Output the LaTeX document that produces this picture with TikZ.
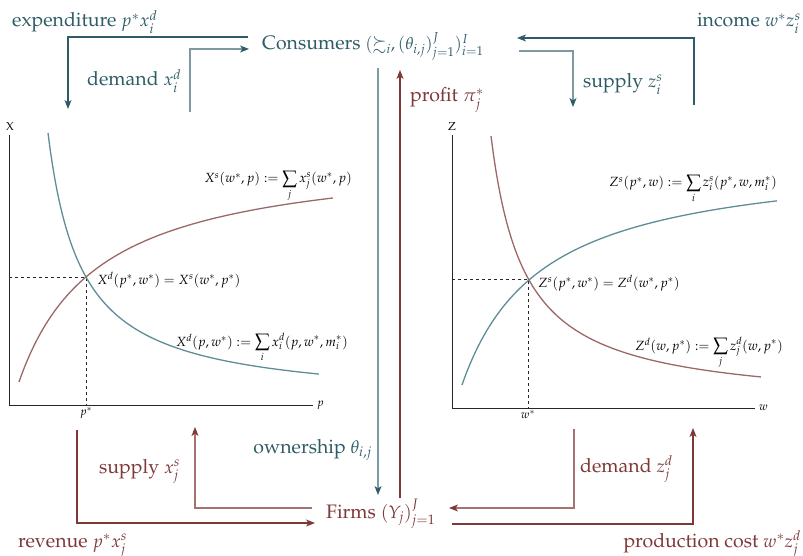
\documentclass[tikz,border=0pt]{standalone}
\usepackage[T1]{fontenc}
\usepackage{mathpazo}
\usepackage{amssymb}
\usetikzlibrary{arrows.meta}
\definecolor{tdark}{HTML}{2E5C66}
\definecolor{tlight}{HTML}{7D9AA3}
\definecolor{rdark}{HTML}{7E3838}
\definecolor{rlight}{HTML}{A57272}
\definecolor{tcurve}{HTML}{5E8D97}
\definecolor{rcurve}{HTML}{9C6767}
\newcommand{\mth}[1]{{\fontsize{18}{21}\selectfont$#1$}}
\newcommand{\mthc}[1]{{\fontsize{17}{20}\selectfont$#1$}}
\begin{document}
\begin{tikzpicture}[x=1pt,y=-1pt,
  big/.style={font=\fontsize{19.5}{22}\selectfont, inner sep=0pt},
  mid/.style={font=\fontsize{13.3}{15}\selectfont, inner sep=0pt},
  small/.style={font=\fontsize{11.5}{13}\selectfont, inner sep=0pt},
  flow/.style={line width=1.05pt},
  tipT/.style={-{Stealth[length=9pt,width=7pt,inset=2.5pt,color=tdark]}},
  tipR/.style={-{Stealth[length=9pt,width=7pt,inset=2.5pt,color=rdark]}},
  axis/.style={line width=0.8pt, black!85},
  guide/.style={dashed, line width=0.6pt, black!85},
  curve/.style={line width=1.3pt}
]
\useasboundingbox (0,0) rectangle (803,556);

% main nodes
\node[big, text=tdark, anchor=base west] (cons) at (262,50) {Consumers \mthc{(\succsim_i,(\theta_{i,j})_{j=1}^J)_{i=1}^I}};
\node[big, text=rdark, anchor=base west] (firms) at (326,518) {Firms \mth{(Y_j)_{j=1}^J}};

% flow coordinates
\coordinate (expS) at (248,37);  \coordinate (expE) at (68,109);
\coordinate (dmS) at (190,112);  \coordinate (dmE) at (249,49);
\coordinate (inS) at (694,105);  \coordinate (inE) at (517,38);
\coordinate (szS) at (519,51);   \coordinate (szE) at (573,107);
\coordinate (owS) at (378,68);   \coordinate (owE) at (378,495);
\coordinate (prS) at (400,498);  \coordinate (prE) at (400,70);
\coordinate (rvS) at (77,430);   \coordinate (rvE) at (315,523);
\coordinate (sxS) at (312,508);  \coordinate (sxE) at (195,427);
\coordinate (dzS) at (574,429);  \coordinate (dzE) at (449,508);
\coordinate (pcS) at (452,524);  \coordinate (pcE) at (693,428);

\draw[flow, tdark, tipT] (expS) -| (expE);
\draw[flow, tlight, tipT] (dmS) |- (dmE);
\draw[flow, tdark, tipT] (inS) |- (inE);
\draw[flow, tlight, tipT] (szS) -| (szE);
\draw[flow, tlight, tipT] (owS) -- (owE);
\draw[flow, rdark, tipR] (prS) -- (prE);
\draw[flow, rdark, tipR] (rvS) |- (rvE);
\draw[flow, rlight, tipR] (sxS) -| (sxE);
\draw[flow, rlight, tipR] (dzS) |- (dzE);
\draw[flow, rdark, tipR] (pcS) -| (pcE);

% flow labels
\node[big, text=tdark, anchor=base west] (lexp) at (12,27) {expenditure \mth{p^*x_i^d}};
\node[big, text=tdark, anchor=base west] (ldm) at (87,86) {demand \mth{x_i^d}};
\node[big, text=tdark, anchor=base east] (linc) at (801,27) {income \mth{w^*z_i^s}};
\node[big, text=tdark, anchor=base west] (lsz) at (583,88) {supply \mth{z_i^s}};
\node[big, text=rdark, anchor=base west] (lpr) at (410,102) {profit \mth{\pi_j^*}};
\node[big, text=tdark, anchor=base east] (low) at (372,453) {ownership \mth{\theta_{i,j}}};
\node[big, text=rdark, anchor=base west] (lsx) at (99,473) {supply \mth{x_j^s}};
\node[big, text=rdark, anchor=base west] (lrv) at (18,547) {revenue \mth{p^*x_j^s}};
\node[big, text=rdark, anchor=base west] (ldz) at (580,472) {demand \mth{z_j^d}};
\node[big, text=rdark, anchor=base east] (lpc) at (801,547) {production cost \mth{w^*z_j^d}};

% left graph
\begin{scope}[shift={(9,405)}]
  \coordinate (LO) at (0,0);
  \coordinate (LY) at (0,-270);
  \coordinate (LX) at (304,0);
  \coordinate (LE) at (77,-128);
  \draw[axis] (LY) -- (LO) -- (LX);
  \draw[guide] (LO |- LE) -- (LE) -- (LE |- LO);
  \draw[curve, tcurve, domain=39:310, samples=120, variable=\u] plot (\u, {-(1.2+90.57/((\u-5.55)/100))});
  \draw[curve, rcurve, domain=10:324, samples=120, variable=\u] plot (\u, {-(254.2-186.08/((\u+70.5)/100))});
\end{scope}
\node[small, anchor=south] (lXl) at (10,131) {X};
\node[small, anchor=west] (lpl) at (317,405) {$p$};
\node[small, anchor=north] (lps) at (86,407) {$p^*$};
\node[mid, anchor=base east] (lxs) at (352,183) {$X^s(w^*,p) := \displaystyle\sum_j x_j^s(w^*,p)$};
\node[mid, anchor=base west] (leq) at (97,284) {$X^d(p^*,w^*) = X^s(w^*,p^*)$};
\node[mid, anchor=base east] (lxd) at (348,346) {$X^d(p,w^*) := \displaystyle\sum_i x_i^d(p,w^*,m_i^*)$};

% right graph
\begin{scope}[shift={(452,408)}]
  \coordinate (RO) at (0,0);
  \coordinate (RY) at (0,-273);
  \coordinate (RX) at (303,0);
  \coordinate (RE) at (76,-129);
  \draw[axis] (RY) -- (RO) -- (RX);
  \draw[guide] (RO |- RE) -- (RE) -- (RE |- RO);
  \draw[curve, rcurve, domain=39:309, samples=120, variable=\u] plot (\u, {-(1.2+90.57/((\u-5.55)/100))});
  \draw[curve, tcurve, domain=10:325, samples=120, variable=\u] plot (\u, {-(254.2-186.08/((\u+70.5)/100))});
\end{scope}
\node[small, anchor=south] (lZl) at (452,131) {Z};
\node[small, anchor=west] (lwl) at (759,408) {$w$};
\node[small, anchor=north] (lws) at (528,410) {$w^*$};
\node[mid, anchor=base east] (lzs) at (777,187) {$Z^s(p^*,w) := \displaystyle\sum_i z_i^s(p^*,w,m_i^*)$};
\node[mid, anchor=base west] (lzeq) at (538,287) {$Z^s(p^*,w^*) = Z^d(w^*,p^*)$};
\node[mid, anchor=base east] (lzd) at (783,350) {$Z^d(w,p^*) := \displaystyle\sum_j z_j^d(w,p^*)$};
\end{tikzpicture}
\end{document}
